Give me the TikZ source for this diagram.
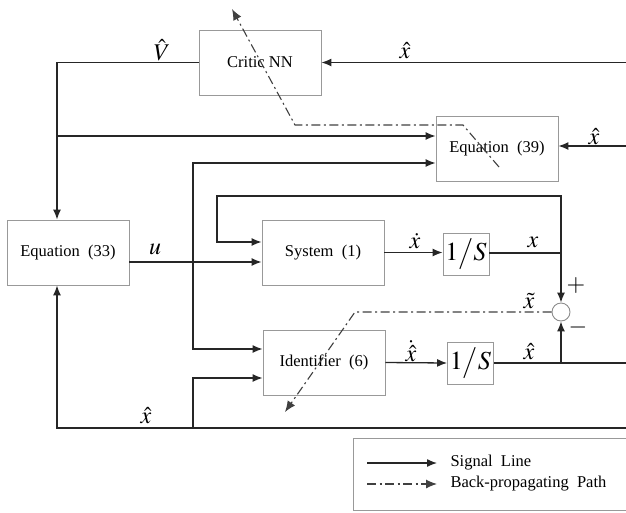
\documentclass[tikz,border=0pt]{standalone}
\usepackage{mathptmx}
\usepackage{fontspec}
\setmainfont{Liberation Serif}
\usetikzlibrary{arrows.meta}

\tikzset{
  block/.style={draw=black!40, line width=0.9pt, minimum width=122pt, minimum height=65pt, inner sep=0pt},
  intbox/.style={draw=black!40, line width=0.9pt, minimum width=46pt, minimum height=42pt, inner sep=0pt, font=\fontsize{26}{30}\selectfont},
  sumnode/.style={draw=black!45, line width=0.9pt, circle, minimum size=18pt, inner sep=0pt},
  sig/.style={draw=black!85, line width=1.3pt, -{Latex[length=10pt,width=8pt]}},
  wire/.style={draw=black!85, line width=1.3pt},
  bp/.style={draw=black!75, line width=1.1pt, dash pattern=on 9pt off 3.5pt on 2pt off 3.5pt, -{Latex[length=11pt,width=9pt]}},
  lbl/.style={font=\fontsize{24}{26}\selectfont, inner sep=0pt},
}

\begin{document}
\begin{tikzpicture}[x=1pt, y=-1pt, font=\fontsize{16.5}{19}\selectfont]
\useasboundingbox (0,0) rectangle (626,512);
\clip (0,0) rectangle (626,512);

% blocks
\node (critic) at (260,62.5) [block] {Critic NN};
\node (eq39) at (497,148.5) [block] {Equation~~(39)};
\node (eq33) at (68,252.5) [block] {Equation~~(33)};
\node (sys) at (323,252.5) [block] {System~~(1)};
\node (ident) at (324,362.5) [block] {Identifier~~(6)};
\node (int1) at (466,254) [intbox] {$1\big/S$};
\node (int2) at (470.5,363) [intbox] {$1\big/S$};
\node (sum) at (561,312) [sumnode] {};

% free ends and corners
\coordinate (xr1) at (626,62.5);
\coordinate (xr2) at (626,146);
\coordinate (xr3) at (626,363);
\coordinate (xbot) at (626,428);
\coordinate (lbus) at (57,62.5);
\coordinate (ubr) at (193,262);
\coordinate (bbr) at (193,428);
\coordinate (xj) at (561,253);
\coordinate (xhj) at (561,363);
\coordinate (loopt) at (217,196);

% signal lines
\draw[sig] (xr1) -- (critic.east);
\draw[sig] (critic.west) -- (lbus) -- (lbus |- eq33.north);
\draw[sig] (lbus |- 0,136) -- ([yshift=12.5pt]eq39.west);
\draw[sig] (xr2) -- ([yshift=2.5pt]eq39.east);
\draw[sig] ([yshift=-9.5pt]eq33.east) -- ([yshift=-9.5pt]sys.west);
\draw[sig] (ubr) |- ([yshift=-14.5pt]eq39.west);
\draw[sig] (ubr) |- ([yshift=13.5pt]ident.west);
\draw[sig] (sys.east) -- (sys.east -| int1.west);
\draw[sig] (int1.east |- xj) -- (xj) -- (sum.north);
\draw[sig] (xj) |- (loopt) |- ([yshift=10.5pt]sys.west);
\draw[sig] (ident.east) -- (int2.west);
\draw[wire] (int2.east) -- (xr3);
\draw[sig] (xhj) -- (sum.south);
\draw[sig] (xbot) -- (lbus |- xbot) -- (lbus |- eq33.south);
\draw[sig] (bbr) |- ([yshift=-15.5pt]ident.west);

% back-propagating paths
\coordinate (bpa0) at (499,167);
\coordinate (bpa1) at (463,125);
\coordinate (bpa2) at (295,125);
\coordinate (bpa3) at (232,9);
\draw[bp] (bpa0) -- (bpa1) -- (bpa2) -- (bpa3);
\coordinate (bpb1) at (355,312);
\coordinate (bpb2) at (285,412);
\draw[bp] (sum.west) -- (bpb1) -- (bpb2);

% labels
\node (lvhat) at (162,50) [lbl] {$\hat{V}$};
\node (lxh1) at (405,51) [lbl] {$\hat{x}$};
\node (lxh2) at (594,137) [lbl] {$\hat{x}$};
\node (lu) at (155,249) [lbl] {$u$};
\node (lxd) at (415,241) [lbl] {$\dot{x}$};
\node (lx) at (533,242) [lbl] {$x$};
\node (lxt) at (529,301) [lbl] {$\tilde{x}$};
\node (lxhd) at (411,351) [lbl] {$\dot{\hat{x}}$};
\node (lxh3) at (529,352) [lbl] {$\hat{x}$};
\node (lxh4) at (146,416) [lbl] {$\hat{x}$};
\node (lplus) at (576,285) [lbl] {$+$};
\node (lminus) at (578,327) [lbl] {$-$};

% legend
\node (legend) at (497,474) [draw=black!40, line width=0.9pt, minimum width=288pt, minimum height=72pt] {};
\coordinate (sl0) at (367,463);
\coordinate (sl1) at (437,463);
\coordinate (bl0) at (367,484);
\coordinate (bl1) at (437,484);
\draw[sig] (sl0) -- (sl1);
\draw[bp] (bl0) -- (bl1);
\node (sltext) at (447,463) [anchor=west] {Signal~~Line};
\node (bltext) at (447,484) [anchor=west] {Back-propagating~~Path};
\end{tikzpicture}
\end{document}
